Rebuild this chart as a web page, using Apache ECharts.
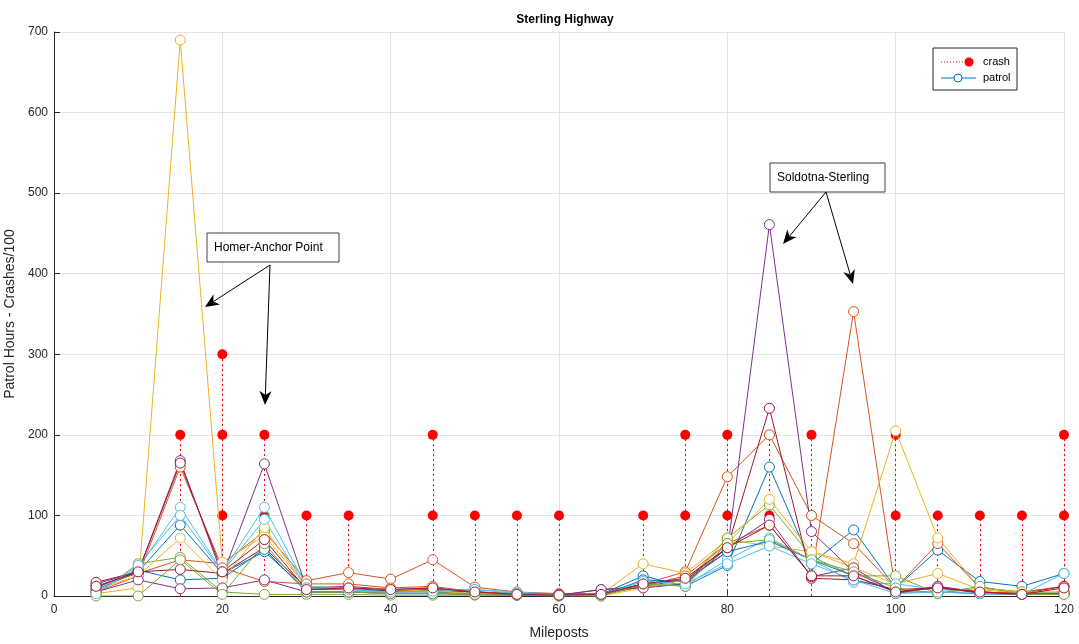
<!DOCTYPE html>
<html>
<head>
<meta charset="utf-8">
<title>Sterling Highway</title>
<script src="https://cdn.jsdelivr.net/npm/echarts@6/dist/echarts.min.js"></script>
<style>
  html, body { margin: 0; padding: 0; background: #fff; }
  #myChart { width: 1079px; height: 644px; }
</style>
</head>
<body>
<div id="myChart"></div>
<script>
// mileposts (x axis)
const mileposts = [5, 10, 15, 20, 25, 30, 35, 40, 45, 50, 55, 60, 65, 70, 75, 80, 85, 90, 95, 100, 105, 110, 115, 120];

// crash stems: milepost + crashes/100
const crashMiles = [15, 15, 20, 20, 20, 25, 25, 30, 35, 45, 45, 50, 55, 60, 70, 75, 75, 80, 80, 85, 85, 90, 90, 100, 100, 105, 110, 115, 120, 120];
const crashValues = [200, 100, 300, 200, 100, 200, 100, 100, 100, 200, 100, 100, 100, 100, 100, 200, 100, 200, 100, 200, 100, 200, 100, 200, 100, 100, 100, 100, 200, 100];

// patrol hours, one array per line
const patrol1 = [8, 30, 88, 28, 55, 8, 8, 6, 7, 5, 3, 2, 2, 25, 12, 38, 160, 40, 82, 10, 57, 18, 12, 28];
const patrol2 = [12, 28, 45, 40, 80, 19, 29, 21, 45, 11, 5, 3, 3, 15, 30, 148, 200, 100, 65, 10, 65, 10, 5, 12];
const patrol3 = [3, 10, 690, 42, 75, 12, 10, 8, 8, 5, 3, 2, 2, 40, 28, 70, 62, 55, 35, 15, 28, 8, 3, 5];
const patrol4 = [15, 30, 168, 25, 164, 10, 12, 8, 10, 4, 2, 1, 8, 12, 20, 55, 461, 80, 30, 5, 12, 5, 3, 3];
const patrol5 = [2, 40, 48, 5, 2, 2, 2, 1, 1, 1, 1, 0, 1, 12, 15, 72, 113, 49, 25, 25, 3, 10, 5, 2];
const patrol6 = [5, 35, 110, 30, 110, 12, 10, 8, 8, 8, 5, 2, 2, 15, 13, 45, 72, 45, 17, 15, 8, 5, 3, 5];
const patrol7 = [17, 30, 33, 28, 60, 10, 10, 6, 8, 5, 3, 2, 2, 15, 20, 60, 233, 22, 20, 8, 10, 5, 3, 12];
const patrol8 = [10, 32, 20, 22, 58, 5, 5, 5, 5, 3, 2, 1, 1, 20, 18, 55, 68, 45, 25, 5, 5, 3, 2, 3];
const patrol9 = [5, 25, 160, 35, 18, 15, 15, 10, 12, 5, 3, 2, 2, 12, 25, 65, 88, 25, 353, 5, 10, 5, 3, 3];
const patrol10 = [8, 25, 72, 20, 85, 10, 10, 8, 6, 3, 2, 1, 0, 10, 20, 65, 120, 55, 40, 205, 72, 10, 5, 5];
const patrol11 = [5, 20, 9, 10, 20, 5, 5, 3, 3, 2, 1, 1, 8, 10, 15, 60, 95, 24, 35, 3, 12, 3, 2, 3];
const patrol12 = [0, 0, 45, 2, 65, 5, 5, 3, 3, 2, 1, 0, 0, 15, 12, 65, 70, 45, 30, 10, 3, 12, 2, 2];
const patrol13 = [3, 38, 100, 30, 95, 10, 8, 5, 6, 8, 3, 1, 1, 18, 15, 40, 62, 40, 20, 3, 5, 3, 2, 28];
const patrol14 = [12, 30, 165, 30, 70, 8, 10, 8, 10, 5, 2, 1, 2, 15, 22, 60, 88, 25, 25, 5, 10, 5, 2, 10];

const patrolLines = [patrol1, patrol2, patrol3, patrol4, patrol5, patrol6, patrol7,
  patrol8, patrol9, patrol10, patrol11, patrol12, patrol13, patrol14];

// matlab default line colors
const lineColors = ["#0072BD", "#D95319", "#EDB120", "#7E2F8E", "#77AC30", "#4DBEEE", "#A2142F"];

const xTicks = [0, 20, 40, 60, 80, 100, 120];
const yTicks = [0, 100, 200, 300, 400, 500, 600, 700];

const font = "Liberation Sans, Arial, sans-serif";
const axisColor = "#262626";

let chart = echarts.init(document.getElementById("myChart"));

let crashPoints = crashMiles.map((m, i) => [m, crashValues[i]]);

let serObj = [];

// stems (dotted red) from 0 up to each crash value
serObj.push({
  name: "crash",
  type: "lines",
  coordinateSystem: "cartesian2d",
  z: 2,
  silent: true,
  lineStyle: { color: "#ff0000", width: 1, type: [2, 3], opacity: 1 },
  data: crashPoints.map(p => ({ coords: [[p[0], 0], [p[0], p[1]]] }))
});
serObj.push({
  name: "crash",
  type: "scatter",
  z: 3,
  symbol: "circle",
  symbolSize: 10,
  itemStyle: { color: "#ff0000", opacity: 1 },
  data: crashPoints
});

patrolLines.forEach((vals, idx) => {
  let c = lineColors[idx % lineColors.length];
  serObj.push({
    name: "patrol",
    type: "line",
    z: 4,
    symbol: "circle",
    symbolSize: 10,
    showAllSymbol: true,
    lineStyle: { width: 1, color: c },
    itemStyle: { color: "#fff", borderColor: c, borderWidth: 1 },
    data: mileposts.map((m, i) => [m, vals[i]])
  });
});

// legend + annotation boxes/arrows drawn in pixels
function arrowHead(x1, y1, x2, y2) {
  // filled head pointing at (x2,y2)
  let ang = Math.atan2(y2 - y1, x2 - x1);
  let len = 14, wid = 6, back = 4;
  let bx = x2 - len * Math.cos(ang), by = y2 - len * Math.sin(ang);
  let nx = -Math.sin(ang), ny = Math.cos(ang);
  let mx = x2 - (len - back) * Math.cos(ang), my = y2 - (len - back) * Math.sin(ang);
  return {
    type: "polygon",
    z: 100,
    shape: { points: [[x2, y2], [bx + nx * wid, by + ny * wid], [mx, my], [bx - nx * wid, by - ny * wid]] },
    style: { fill: "#000" }
  };
}
function arrow(x1, y1, x2, y2) {
  let ang = Math.atan2(y2 - y1, x2 - x1);
  return [
    {
      type: "line", z: 100,
      shape: { x1: x1, y1: y1, x2: x2 - 10 * Math.cos(ang), y2: y2 - 10 * Math.sin(ang) },
      style: { stroke: "#000", lineWidth: 1 }
    },
    arrowHead(x1, y1, x2, y2)
  ];
}

let graphics = [
  // legend
  { type: "rect", z: 100, shape: { x: 933, y: 48, width: 84, height: 42 }, style: { fill: "#fff", stroke: "#262626", lineWidth: 1 } },
  { type: "line", z: 101, shape: { x1: 941, y1: 62, x2: 968, y2: 62 }, style: { stroke: "#ff0000", lineWidth: 1, lineDash: [1, 2] } },
  { type: "circle", z: 101, shape: { cx: 969, cy: 62, r: 4.5 }, style: { fill: "#ff0000" } },
  { type: "text", z: 101, style: { x: 983, y: 62, text: "crash", fill: "#000", font: "11px " + font, verticalAlign: "middle" } },
  { type: "line", z: 101, shape: { x1: 941, y1: 78, x2: 976, y2: 78 }, style: { stroke: "#0072BD", lineWidth: 1 } },
  { type: "circle", z: 102, shape: { cx: 958, cy: 78, r: 4 }, style: { fill: "#fff", stroke: "#0072BD", lineWidth: 1 } },
  { type: "text", z: 101, style: { x: 983, y: 78, text: "patrol", fill: "#000", font: "11px " + font, verticalAlign: "middle" } },
  // annotation boxes
  { type: "rect", z: 100, shape: { x: 207, y: 233, width: 132, height: 29 }, style: { fill: "#fff", stroke: "#404040", lineWidth: 1 } },
  { type: "text", z: 101, style: { x: 214, y: 247.5, text: "Homer-Anchor Point", fill: "#000", font: "12px " + font, verticalAlign: "middle" } },
  { type: "rect", z: 100, shape: { x: 770, y: 163, width: 115, height: 29 }, style: { fill: "#fff", stroke: "#404040", lineWidth: 1 } },
  { type: "text", z: 101, style: { x: 777, y: 177.5, text: "Soldotna-Sterling", fill: "#000", font: "12px " + font, verticalAlign: "middle" } }
]
  .concat(arrow(270, 265, 205, 307))
  .concat(arrow(270, 265, 265, 405))
  .concat(arrow(826, 192, 783, 244))
  .concat(arrow(826, 192, 853, 284));

let option = {
  backgroundColor: "#fff",
  animation: false,
  title: {
    text: "Sterling Highway",
    left: 560,
    top: 9,
    textAlign: "center",
    textStyle: { fontFamily: font, fontSize: 12, fontWeight: "bold", color: "#000" }
  },
  grid: { left: 54, right: 15, top: 32, bottom: 48, outerBoundsMode: "none", containLabel: false },
  xAxis: {
    type: "value",
    min: 0,
    max: 120,
    interval: 20,
    name: "Mileposts",
    nameLocation: "middle",
    nameGap: 30,
    nameTextStyle: { fontFamily: font, fontSize: 14, color: axisColor },
    axisLine: { show: true, lineStyle: { color: axisColor } },
    axisTick: { show: true, inside: true, length: 6, lineStyle: { color: axisColor } },
    axisLabel: {
      fontFamily: font, fontSize: 12, color: axisColor, margin: 8,
      formatter: v => (xTicks.indexOf(v) >= 0 ? String(v) : "")
    },
    splitLine: { show: true, lineStyle: { color: "#e3e3e3" } }
  },
  yAxis: {
    type: "value",
    min: 0,
    max: 700,
    interval: 100,
    name: "Patrol Hours - Crashes/100",
    nameLocation: "middle",
    nameGap: 31,
    nameTextStyle: { fontFamily: font, fontSize: 14, color: axisColor },
    axisLine: { show: true, lineStyle: { color: axisColor } },
    axisTick: { show: true, inside: true, length: 6, lineStyle: { color: axisColor } },
    axisLabel: {
      fontFamily: font, fontSize: 12, color: axisColor, margin: 6,
      formatter: v => (yTicks.indexOf(v) >= 0 ? String(v) : "")
    },
    splitLine: { show: true, lineStyle: { color: "#e3e3e3" } }
  },
  graphic: graphics,
  series: serObj
};

chart.setOption(option);
</script>
</body>
</html>
